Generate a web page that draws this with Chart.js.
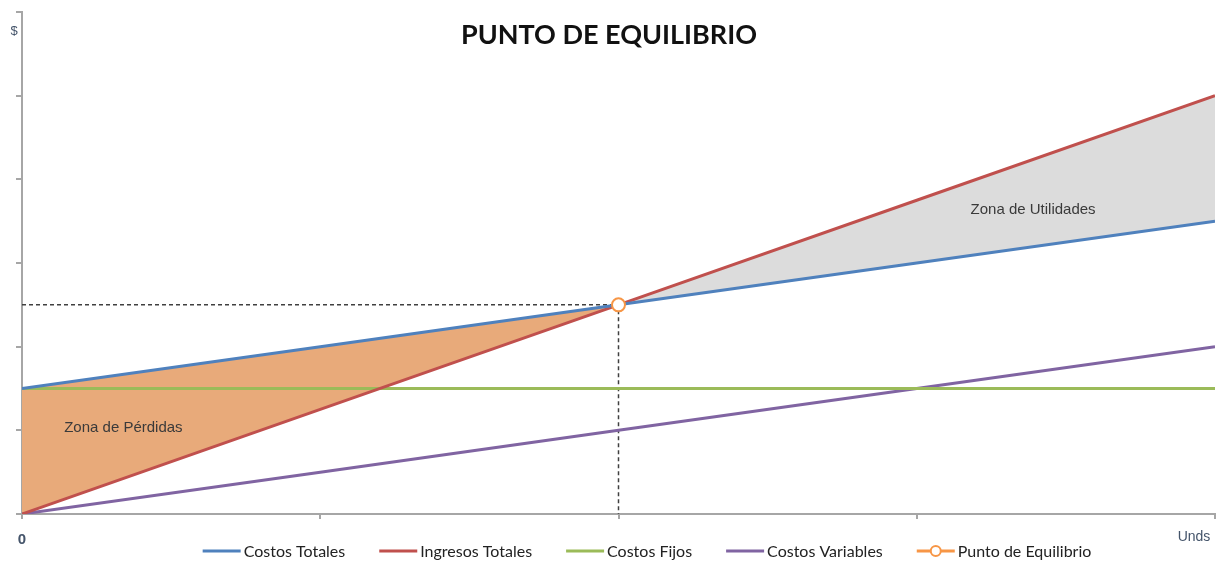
<!DOCTYPE html>
<html>
<head>
<meta charset="utf-8">
<title>Punto de Equilibrio</title>
<script src="https://cdn.jsdelivr.net/npm/chart.js@4.4.1/dist/chart.umd.min.js"></script>
<style>
    html, body { margin: 0; padding: 0; background: #fff; }
    #wrap { width: 1219px; height: 562px; }
</style>
</head>
<body>
<div id="wrap"><canvas id="myChart" width="1219" height="562"></canvas></div>
<script>
// valores (unidades arbitrarias, cada marca del eje = 1)
const unidades = [0, 1, 2, 3, 4];
const costosTotales = [1.5, 2, 2.5, 3, 3.5];
const ingresosTotales = [0, 1.25, 2.5, 3.75, 5];
const costosFijos = [1.5, 1.5, 1.5, 1.5, 1.5];
const costosVariables = [0, 0.5, 1, 1.5, 2];
const puntoEquilibrio = { x: 2, y: 2.5 };

const etiquetas = ["Costos Totales", "Ingresos Totales", "Costos Fijos", "Costos Variables", "Punto de Equilibrio"];
const colores = ["#4F81BD", "#C0504D", "#9BBB59", "#8064A2", "#F79646"];

function puntos(xs, ys) {
    let result = [];
    for (let i = 0; i < xs.length; i++) {
        result.push({ x: xs[i], y: ys[i] });
    }
    return result;
}

// indice del punto de equilibrio dentro de las series
const iEq = unidades.indexOf(puntoEquilibrio.x);

function serie(label, data, color) {
    return {
        label: label,
        data: data,
        borderColor: color,
        backgroundColor: color,
        borderWidth: 3,
        pointRadius: 0,
        fill: false,
        order: 1,
        enLeyenda: true
    };
}

const datasets = [
    serie(etiquetas[0], puntos(unidades, costosTotales), colores[0]),
    serie(etiquetas[1], puntos(unidades, ingresosTotales), colores[1]),
    serie(etiquetas[2], puntos(unidades, costosFijos), colores[2]),
    serie(etiquetas[3], puntos(unidades, costosVariables), colores[3]),
    {
        label: etiquetas[4],
        data: [puntoEquilibrio],
        borderColor: colores[4],
        backgroundColor: "#ffffff",
        borderWidth: 2,
        pointRadius: 6.5,
        showLine: false,
        order: 0,
        enLeyenda: true
    },
    // lineas guia punteadas
    {
        label: "guia",
        data: [{ x: 0, y: puntoEquilibrio.y }, puntoEquilibrio, { x: puntoEquilibrio.x, y: 0 }],
        borderColor: "#404040",
        borderWidth: 1.5,
        borderDash: [4, 3],
        pointRadius: 0,
        fill: false,
        order: 2
    },
    // zona de perdidas (entre costos totales e ingresos hasta el equilibrio)
    {
        label: "perdidas",
        data: puntos(unidades.slice(0, iEq + 1), costosTotales.slice(0, iEq + 1)),
        borderWidth: 0,
        pointRadius: 0,
        backgroundColor: "#E8AA7A",
        fill: 7,
        order: 10
    },
    {
        label: "perdidasBase",
        data: puntos(unidades.slice(0, iEq + 1), ingresosTotales.slice(0, iEq + 1)),
        borderWidth: 0,
        pointRadius: 0,
        fill: false,
        order: 10
    },
    // zona de utilidades
    {
        label: "utilidades",
        data: puntos(unidades.slice(iEq), ingresosTotales.slice(iEq)),
        borderWidth: 0,
        pointRadius: 0,
        backgroundColor: "#DCDCDC",
        fill: 9,
        order: 10
    },
    {
        label: "utilidadesBase",
        data: puntos(unidades.slice(iEq), costosTotales.slice(iEq)),
        borderWidth: 0,
        pointRadius: 0,
        fill: false,
        order: 10
    }
];

const textosPlugin = {
    id: "textos",
    afterDraw(chart) {
        const ctx = chart.ctx;
        const x = chart.scales.x;
        const y = chart.scales.y;
        ctx.save();

        ctx.fillStyle = "#111111";
        ctx.font = "bold 27px Lato";
        ctx.textAlign = "center";
        ctx.textBaseline = "middle";
        ctx.fillText("PUNTO DE EQUILIBRIO", 609, 35);

        ctx.fillStyle = "#3a3a3a";
        ctx.font = "15px 'Liberation Sans'";
        ctx.fillText("Zona de Pérdidas", x.getPixelForValue(0.34), y.getPixelForValue(1.03));
        ctx.fillText("Zona de Utilidades", x.getPixelForValue(3.39), y.getPixelForValue(3.63));

        ctx.fillStyle = "#44546A";
        ctx.font = "13px 'Liberation Sans'";
        ctx.fillText("$", 14, 31);
        ctx.font = "bold 15px 'Liberation Sans'";
        ctx.fillText("0", x.left, 540);
        ctx.font = "14px 'Liberation Sans'";
        ctx.fillText("Unds", 1194, 537);

        // leyenda
        ctx.font = "16px Lato";
        ctx.textAlign = "left";
        const items = chart.data.datasets.filter(d => d.enLeyenda);
        const largo = 38;
        const sep = 34;
        let total = 0;
        items.forEach(d => { total += largo + 3 + ctx.measureText(d.label).width; });
        total += sep * (items.length - 1);
        let px = 647 - total / 2;
        const py = 551;
        items.forEach(d => {
            ctx.strokeStyle = d.borderColor;
            ctx.lineWidth = 3;
            ctx.beginPath();
            ctx.moveTo(px, py);
            ctx.lineTo(px + largo, py);
            ctx.stroke();
            if (d.showLine === false) {
                ctx.fillStyle = "#ffffff";
                ctx.lineWidth = 2;
                ctx.beginPath();
                ctx.arc(px + largo / 2, py, 5, 0, Math.PI * 2);
                ctx.fill();
                ctx.stroke();
            }
            ctx.fillStyle = "#222222";
            ctx.fillText(d.label, px + largo + 3, py + 1);
            px += largo + 3 + ctx.measureText(d.label).width + sep;
        });
        ctx.restore();
    }
};

const config = {
    type: "line",
    data: { datasets: datasets },
    options: {
        responsive: false,
        animation: false,
        layout: { autoPadding: false, padding: { left: 16, right: 4, top: 12, bottom: 43 } },
        plugins: {
            legend: { display: false },
            tooltip: { enabled: false },
            filler: { propagate: false }
        },
        scales: {
            x: {
                type: "linear",
                min: 0,
                max: 4,
                ticks: { display: false, stepSize: 1 },
                grid: { drawOnChartArea: false, tickLength: 5, color: "#A6A6A6", lineWidth: 2 },
                border: { color: "#A6A6A6", width: 2 }
            },
            y: {
                min: 0,
                max: 6,
                ticks: { display: false, stepSize: 1 },
                grid: { drawOnChartArea: false, tickLength: 6, color: "#A6A6A6", lineWidth: 2 },
                border: { color: "#A6A6A6", width: 2 }
            }
        }
    },
    plugins: [textosPlugin]
};

var myChart = new Chart(document.getElementById("myChart"), config);
</script>
</body>
</html>
